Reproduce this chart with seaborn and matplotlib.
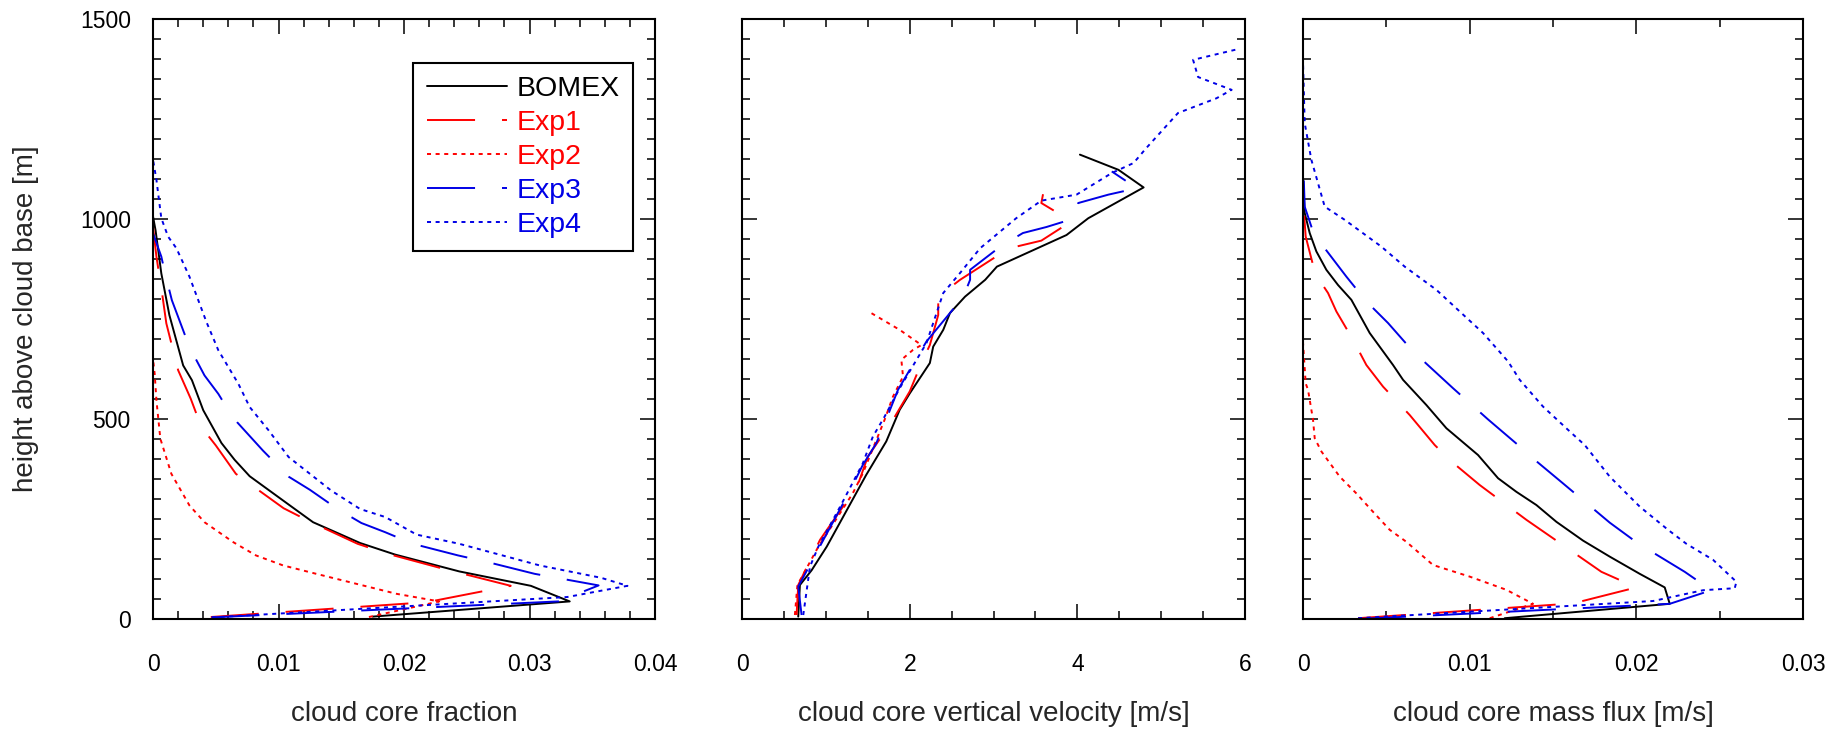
import matplotlib
matplotlib.use("Agg")
import matplotlib.pyplot as plt
from matplotlib.ticker import MultipleLocator, FixedLocator
import seaborn as sns

# ---------------- data ----------------
names = ["BOMEX", "Exp1", "Exp2", "Exp3", "Exp4"]

# panel 1 : cloud core fraction
bomex_h1 = [6, 44, 83, 119, 161, 190, 242, 284, 357, 398, 440, 522, 597, 634, 760, 864, 972, 1006]
bomex_f = [0.0175, 0.0332, 0.0301, 0.0244, 0.0193, 0.0165, 0.01275, 0.0109, 0.0077, 0.0065, 0.00545,
           0.0040, 0.0031, 0.0024, 0.0013, 0.00066, 0.0002, 0.0]
exp1_h1 = [5, 42, 83, 125, 163, 188, 242, 277, 363, 434, 480, 551, 622, 739, 810, 906, 980]
exp1_f = [0.0046, 0.0218, 0.0285, 0.0232, 0.0187, 0.0163, 0.0126, 0.0104, 0.0066, 0.0050, 0.00385,
          0.0030, 0.0020, 0.00106, 0.00074, 0.00027, 0.0]
exp2_h1 = [5, 44, 63, 88, 113, 134, 159, 192, 242, 284, 363, 451, 547, 613, 650]
exp2_f = [0.0172, 0.0228, 0.0194, 0.0162, 0.0130, 0.01036, 0.0082, 0.0064, 0.0041, 0.0029, 0.00146,
          0.00058, 0.00027, 0.00013, 0.0]
exp3_h1 = [4, 44, 84, 113, 142, 159, 188, 217, 240, 275, 323, 356, 421, 492, 522, 563, 609, 680, 797,
           868, 906, 964]
exp3_f = [0.00465, 0.0323, 0.0355, 0.0304, 0.0267, 0.0243, 0.0207, 0.0185, 0.0166, 0.0147, 0.0125,
          0.0108, 0.00876, 0.0067, 0.0060, 0.0052, 0.0041, 0.0029, 0.0015, 0.00093, 0.00066, 0.0]
exp4_h1 = [4, 55, 83, 103, 134, 188, 211, 255, 275, 321, 405, 472, 530, 588, 672, 743, 856, 927, 956,
           1002, 1098, 1148]
exp4_f = [0.0047, 0.0330, 0.0378, 0.0357, 0.0308, 0.0244, 0.0210, 0.0185, 0.0165, 0.0142, 0.0108,
          0.0092, 0.0077, 0.0068, 0.0052, 0.00425, 0.0029, 0.00186, 0.0012, 0.00066, 0.00027, 0.0]

# panel 2 : cloud core vertical velocity [m/s]
bomex_h2 = [6, 85, 122, 181, 360, 444, 523, 564, 640, 681, 723, 765, 806, 848, 881, 960, 1002, 1079,
            1123, 1161]
bomex_w = [0.67, 0.69, 0.83, 1.01, 1.48, 1.72, 1.88, 2.00, 2.24, 2.28, 2.40, 2.48, 2.66, 2.90, 3.04,
           3.87, 4.13, 4.79, 4.49, 4.03]
exp1_h2 = [10, 85, 198, 298, 323, 406, 498, 569, 640, 685, 760, 806, 848, 902, 923, 946, 985, 1002,
           1040, 1062]
exp1_w = [0.65, 0.67, 0.93, 1.26, 1.36, 1.50, 1.80, 2.00, 2.14, 2.24, 2.34, 2.34, 2.60, 3.00, 3.11,
          3.57, 3.86, 3.87, 3.57, 3.59]
exp2_h2 = [10, 85, 177, 314, 364, 498, 556, 606, 648, 673, 685, 723, 765]
exp2_w = [0.63, 0.66, 0.90, 1.32, 1.44, 1.70, 1.80, 1.92, 1.90, 2.04, 2.14, 1.88, 1.54]
exp3_h2 = [10, 81, 198, 310, 385, 439, 489, 573, 694, 765, 806, 848, 873, 931, 965, 980, 1002, 1040,
           1061, 1077, 1119]
exp3_w = [0.71, 0.67, 0.97, 1.26, 1.44, 1.60, 1.70, 1.86, 2.20, 2.48, 2.64, 2.72, 2.72, 3.08, 3.35,
          3.63, 3.97, 4.01, 4.37, 4.71, 4.41]
exp4_h2 = [10, 131, 181, 281, 389, 456, 506, 577, 690, 815, 865, 927, 1002, 1046, 1061, 1115, 1140,
           1177, 1265, 1302, 1323, 1355, 1398, 1425]
exp4_w = [0.73, 0.81, 0.91, 1.17, 1.44, 1.56, 1.70, 1.88, 2.20, 2.40, 2.60, 2.84, 3.27, 3.57, 3.99,
          4.41, 4.67, 4.82, 5.20, 5.66, 5.84, 5.44, 5.38, 5.92]

# panel 3 : cloud core mass flux [m/s]
bomex_h3 = [2, 38, 79, 113, 156, 196, 243, 285, 318, 352, 410, 477, 535, 598, 635, 715, 798, 835, 873,
            919, 965, 1015, 1098]
bomex_m = [0.0121, 0.0220, 0.0217, 0.0202, 0.0184, 0.0168, 0.0152, 0.0140, 0.0128, 0.0117, 0.0105,
           0.0086, 0.0074, 0.0060, 0.0054, 0.0040, 0.0029, 0.0021, 0.0014, 0.0008, 0.0004, 0.0001, 0.0]
exp1_h3 = [2, 39, 79, 118, 199, 248, 335, 394, 435, 510, 581, 635, 698, 769, 815, 840, 885, 956, 1048]
exp1_m = [0.0033, 0.0162, 0.0200, 0.0179, 0.0151, 0.0134, 0.0106, 0.0089, 0.0079, 0.0064, 0.0048,
          0.0038, 0.0030, 0.0020, 0.0015, 0.0011, 0.0006, 0.00016, 0.0]
exp2_h3 = [2, 38, 73, 106, 135, 193, 223, 268, 314, 356, 419, 452, 498, 573, 589, 690]
exp2_m = [0.0112, 0.0138, 0.0122, 0.0100, 0.0078, 0.0062, 0.0052, 0.0042, 0.0032, 0.0022, 0.0011,
          0.0007, 0.0006, 0.0003, 0.00016, 0.0]
exp3_h3 = [0, 38, 72, 118, 189, 241, 339, 398, 435, 499, 577, 669, 740, 794, 856, 927, 956, 1031, 1156]
exp3_m = [0.0033, 0.0220, 0.0245, 0.0229, 0.0201, 0.0184, 0.0156, 0.0139, 0.0129, 0.0111, 0.0090,
          0.0066, 0.0051, 0.0038, 0.0026, 0.0013, 0.0007, 0.0001, 0.0]
exp4_h3 = [2, 45, 72, 77, 93, 148, 188, 223, 281, 356, 435, 469, 531, 598, 644, 715, 765, 823, 881,
           931, 998, 1031, 1148, 1240, 1390]
exp4_m = [0.0033, 0.0210, 0.0240, 0.0259, 0.0260, 0.0246, 0.0230, 0.0219, 0.0202, 0.0184, 0.0169,
          0.0160, 0.0144, 0.0130, 0.0123, 0.0108, 0.0095, 0.0080, 0.0061, 0.0047, 0.0025, 0.0013,
          0.0005, 0.0001, 0.0]

xlabels = ["cloud core fraction", "cloud core vertical velocity [m/s]", "cloud core mass flux [m/s]"]
ylabel = "height above cloud base [m]"
xtick_vals = [[0, 0.01, 0.02, 0.03, 0.04], [0, 2, 4, 6], [0, 0.01, 0.02, 0.03]]
xtick_labels = [["0", "0.01", "0.02", "0.03", "0.04"], ["0", "2", "4", "6"], ["0", "0.01", "0.02", "0.03"]]
ytick_vals = [0, 500, 1000, 1500]
ytick_labels = ["0", "500", "1000", "1500"]

# ---------------- style ----------------
sns.set_style("ticks")
plt.rcParams["font.family"] = ["Liberation Sans", "DejaVu Sans"]
plt.rcParams["lines.scale_dashes"] = False
FS_TICK = 16.5
FS_LAB = 20
FS_LEG = 20.5
RED = "#ff0000"
BLUE = "#0000e6"
LONG = (0, (34.6, 19.4))
DOT = (0, (2.9, 3.3))
styles = [("black", "-"), (RED, LONG), (RED, DOT), (BLUE, LONG), (BLUE, DOT)]

fig = plt.figure(figsize=(18.35, 7.35), dpi=100)
bottom, height = 0.1578, 0.8163
axes = [fig.add_axes([0.0834, bottom, 0.2736, height]),
        fig.add_axes([0.4044, bottom, 0.2741, height]),
        fig.add_axes([0.7101, bottom, 0.2725, height])]

panels = [
    [(bomex_f, bomex_h1), (exp1_f, exp1_h1), (exp2_f, exp2_h1), (exp3_f, exp3_h1), (exp4_f, exp4_h1)],
    [(bomex_w, bomex_h2), (exp1_w, exp1_h2), (exp2_w, exp2_h2), (exp3_w, exp3_h2), (exp4_w, exp4_h2)],
    [(bomex_m, bomex_h3), (exp1_m, exp1_h3), (exp2_m, exp2_h3), (exp3_m, exp3_h3), (exp4_m, exp4_h3)],
]
xlims = [(0, 0.04), (0, 6), (0, 0.03)]
xminor = [0.002, 0.5, 0.005]

for i, ax in enumerate(axes):
    for (xv, hv), (col, ls), nm in zip(panels[i], styles, names):
        sns.lineplot(x=xv, y=hv, sort=False, estimator=None, ax=ax, color=col,
                     linestyle=ls, linewidth=1.4, label=nm, legend=False)
    ax.set_xlim(*xlims[i])
    ax.set_ylim(0, 1500)
    ax.xaxis.set_major_locator(FixedLocator(xtick_vals[i]))
    ax.set_xticklabels(xtick_labels[i])
    ax.xaxis.set_minor_locator(MultipleLocator(xminor[i]))
    ax.yaxis.set_major_locator(FixedLocator(ytick_vals))
    ax.yaxis.set_minor_locator(MultipleLocator(50))
    ax.tick_params(which="both", direction="in", top=True, right=True, width=1.1,
                   labelsize=FS_TICK, colors="black")
    ax.tick_params(which="major", length=11)
    ax.tick_params(which="minor", length=6)
    ax.tick_params(axis="x", which="both", pad=24.5)
    ax.tick_params(axis="y", which="both", pad=16)
    for sp in ax.spines.values():
        sp.set_visible(True)
        sp.set_linewidth(1.5)
        sp.set_color("black")
    ax.set_xlabel(xlabels[i], fontsize=FS_LAB)
    ax.xaxis.set_label_coords(0.5, -0.137)
    if i == 0:
        ax.set_yticklabels(ytick_labels)
        ax.set_ylabel(ylabel, fontsize=FS_LAB)
        ax.yaxis.set_label_coords(-0.228, 0.5)
    else:
        ax.tick_params(labelleft=False)
        ax.set_ylabel("")

ax0 = axes[0]
leg = ax0.legend(handles=ax0.get_lines()[:5], labels=names, loc="upper right",
                 bbox_to_anchor=(0.956, 0.927), fontsize=FS_LEG, frameon=True, fancybox=False,
                 edgecolor="black", framealpha=1, handlelength=2.83, handletextpad=0.33,
                 labelspacing=0.28, borderpad=0.47, borderaxespad=0)
leg.get_frame().set_linewidth(1.5)
for t, (col, _) in zip(leg.get_texts(), styles):
    t.set_color(col)

fig.savefig("out.png", dpi=100)
